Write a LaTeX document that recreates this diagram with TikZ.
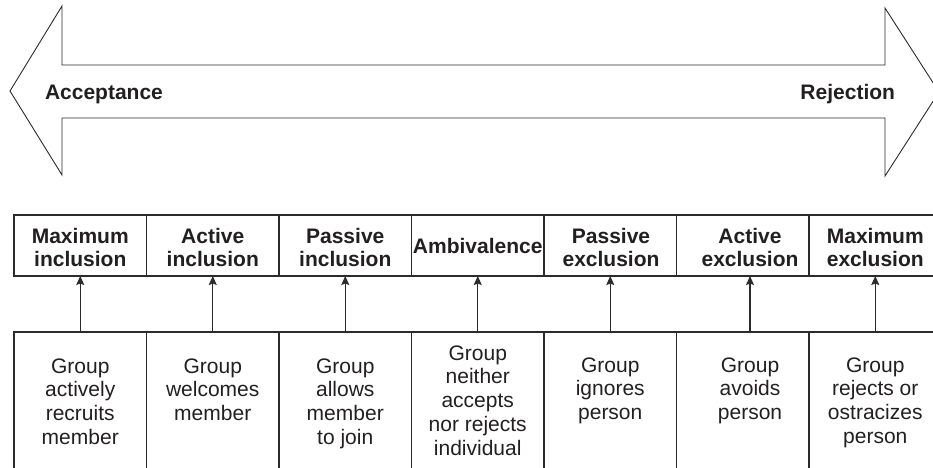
\documentclass[tikz,border=0pt]{standalone}
\usepackage{fontspec}
\setmainfont{Liberation Sans}
\usetikzlibrary{arrows.meta}
\definecolor{ink}{HTML}{231F20}
\definecolor{rule}{HTML}{2B2B2B}
\begin{document}
\begin{tikzpicture}[x=1pt,y=-1pt,
  every node/.style={inner sep=0pt,outer sep=0pt,text=ink},
  bigarrow/.style={draw=rule,line width=0.9pt,line join=miter},
  headbox/.style={draw=rule,line width=1.1pt,minimum width=132.5pt,minimum height=61pt},
  descbox/.style={draw=rule,line width=1.1pt,minimum width=132.5pt,minimum height=150pt},
  headtext/.style={font=\fontsize{21}{23}\selectfont\bfseries,align=center,anchor=base},
  desctext/.style={font=\fontsize{21}{23.75}\selectfont,align=center,anchor=base},
  endlabel/.style={font=\fontsize{21}{24}\selectfont\bfseries},
  link/.style={draw=rule,line width=1.1pt,-{Stealth[length=9pt,width=8pt,inset=1.5pt]}}]
\useasboundingbox (0,0) rectangle (933,467);

% double-headed arrow across the top
\draw[bigarrow] (10,91) -- (62,6) -- (62,65) -- (885,65) -- (885,8) -- (939,92)
  -- (885,176) -- (885,118) -- (62,118) -- (62,175) -- cycle;
\node[endlabel,anchor=base west] (acc) at (45,99) {Acceptance};
\node[endlabel,anchor=base east] (rej) at (895,99) {Rejection};

% category boxes and description boxes
\foreach \i/\cx in {1/80.25,2/212.75,3/345.25,4/477.75,5/610.25,6/742.75,7/875.25}{
  \node[headbox] (h\i) at (\cx,245.5) {};
  \node[descbox] (b\i) at (\cx,407) {};
}
% category labels (placed by the baseline of their last line)
\node[headtext] (hl1) at (80.25,266) {Maximum\\inclusion};
\node[headtext] (hl2) at (212.75,266) {Active\\inclusion};
\node[headtext] (hl3) at (345.25,266) {Passive\\inclusion};
\node[headtext] (hl4) at (477.75,253) {Ambivalence};
\node[headtext] (hl5) at (611,266) {Passive\\exclusion};
\node[headtext] (hl6) at (750,266) {Active\\exclusion};
\node[headtext] (hl7) at (875.25,266) {Maximum\\exclusion};

% descriptions (placed by the baseline of their last line)
\node[desctext] (t1) at (80.25,444.25) {Group\\actively\\recruits\\member};
\node[desctext] (t2) at (212.75,420.5) {Group\\welcomes\\member};
\node[desctext] (t3) at (345.25,444.25) {Group\\allows\\member\\to join};
\node[desctext] (t4) at (477.75,455) {Group\\neither\\accepts\\nor rejects\\individual};
\node[desctext] (t5) at (610.25,419.5) {Group\\ignores\\person};
\node[desctext] (t6) at (750,419.5) {Group\\avoids\\person};
\node[desctext] (t7) at (875.25,443.25) {Group\\rejects or\\ostracizes\\person};

% connectors from descriptions up to categories
\foreach \i in {1,...,7}{
  \draw[link] (t\i.north |- b\i.north) -- (t\i.north |- h\i.south);
}
\end{tikzpicture}
\end{document}
